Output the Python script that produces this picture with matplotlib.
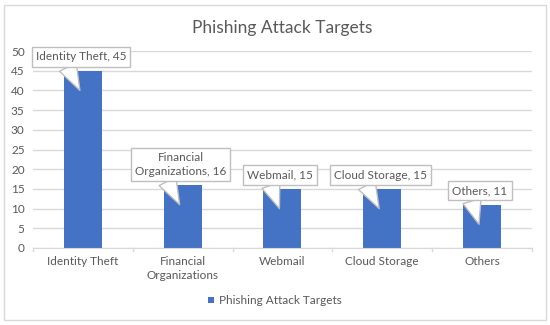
import matplotlib
matplotlib.use('Agg')
import matplotlib.pyplot as plt
import matplotlib.transforms as mtransforms
from matplotlib.patches import Rectangle

plt.rcParams['font.family'] = ['Lato', 'DejaVu Sans']

categories = ['Identity Theft', 'Financial\nOrganizations', 'Webmail', 'Cloud Storage', 'Others']
label_names = ['Identity Theft', 'Financial\nOrganizations', 'Webmail', 'Cloud Storage', 'Others']
values = [45, 16, 15, 15, 11]
series_name = 'Phishing Attack Targets'
yticks = [0, 5, 10, 15, 20, 25, 30, 35, 40, 45, 50]

bar_color = '#4472C4'
text_color = '#595959'
grid_color = '#D9D9D9'

fig = plt.figure(figsize=(5.5, 3.25), dpi=100)
fig.patch.set_facecolor('white')
# outer chart border
fig.patches.append(Rectangle((0.008, 0.015), 0.984, 0.97, transform=fig.transFigure,
                             fill=False, ec=grid_color, lw=1))

ax = fig.add_axes([0.06, 0.237, 0.907, 0.606])
x = range(len(categories))
bars = ax.bar(x, values, width=0.38, color=bar_color, zorder=2, label=series_name)

ax.set_xlim(-0.5, len(categories) - 0.5)
ax.set_ylim(0, 50)
ax.set_yticks(yticks)
ax.set_xticks(list(x))
ax.set_xticklabels(categories, linespacing=1.3)
ax.yaxis.grid(True, color=grid_color, lw=1, zorder=0)
ax.tick_params(axis='both', colors=text_color, labelsize=8.5, length=0, pad=6)
for s in ['top', 'right', 'left']:
    ax.spines[s].set_visible(False)
ax.spines['bottom'].set_color(grid_color)
# small category separators on x axis
for b in range(len(categories) + 1):
    ax.plot([b - 0.5, b - 0.5], [0, -0.8], color=grid_color, lw=1, clip_on=False)

ax.set_title('Phishing Attack Targets', color=text_color, fontsize=12.5, pad=13)

# callout data labels
text_tr = mtransforms.offset_copy(ax.transData, fig=fig, x=0, y=6, units='points')
for i, (name, v) in enumerate(zip(label_names, values)):
    ax.annotate(f'{name}, {v}', xy=(i - 0.03, v - 5), xycoords='data',
                xytext=(i - 0.02, v), textcoords=text_tr,
                ha='center', va='bottom', fontsize=8.5, color=text_color,
                multialignment='center', linespacing=1.3,
                bbox=dict(boxstyle='square,pad=0.35', fc='white', ec='#BFBFBF', lw=1),
                arrowprops=dict(arrowstyle='wedge,tail_width=1.6', fc='white',
                                ec='#BFBFBF', lw=1, relpos=(0.33, 0), shrinkA=0, shrinkB=0),
                zorder=5)

leg = fig.legend(handles=[bars], labels=[series_name], loc='center',
                 bbox_to_anchor=(0.5, 0.075), frameon=False, fontsize=8.5,
                 handlelength=0.5, handleheight=0.5, handletextpad=0.4)
for t in leg.get_texts():
    t.set_color(text_color)

fig.savefig('out.png', dpi=100)
